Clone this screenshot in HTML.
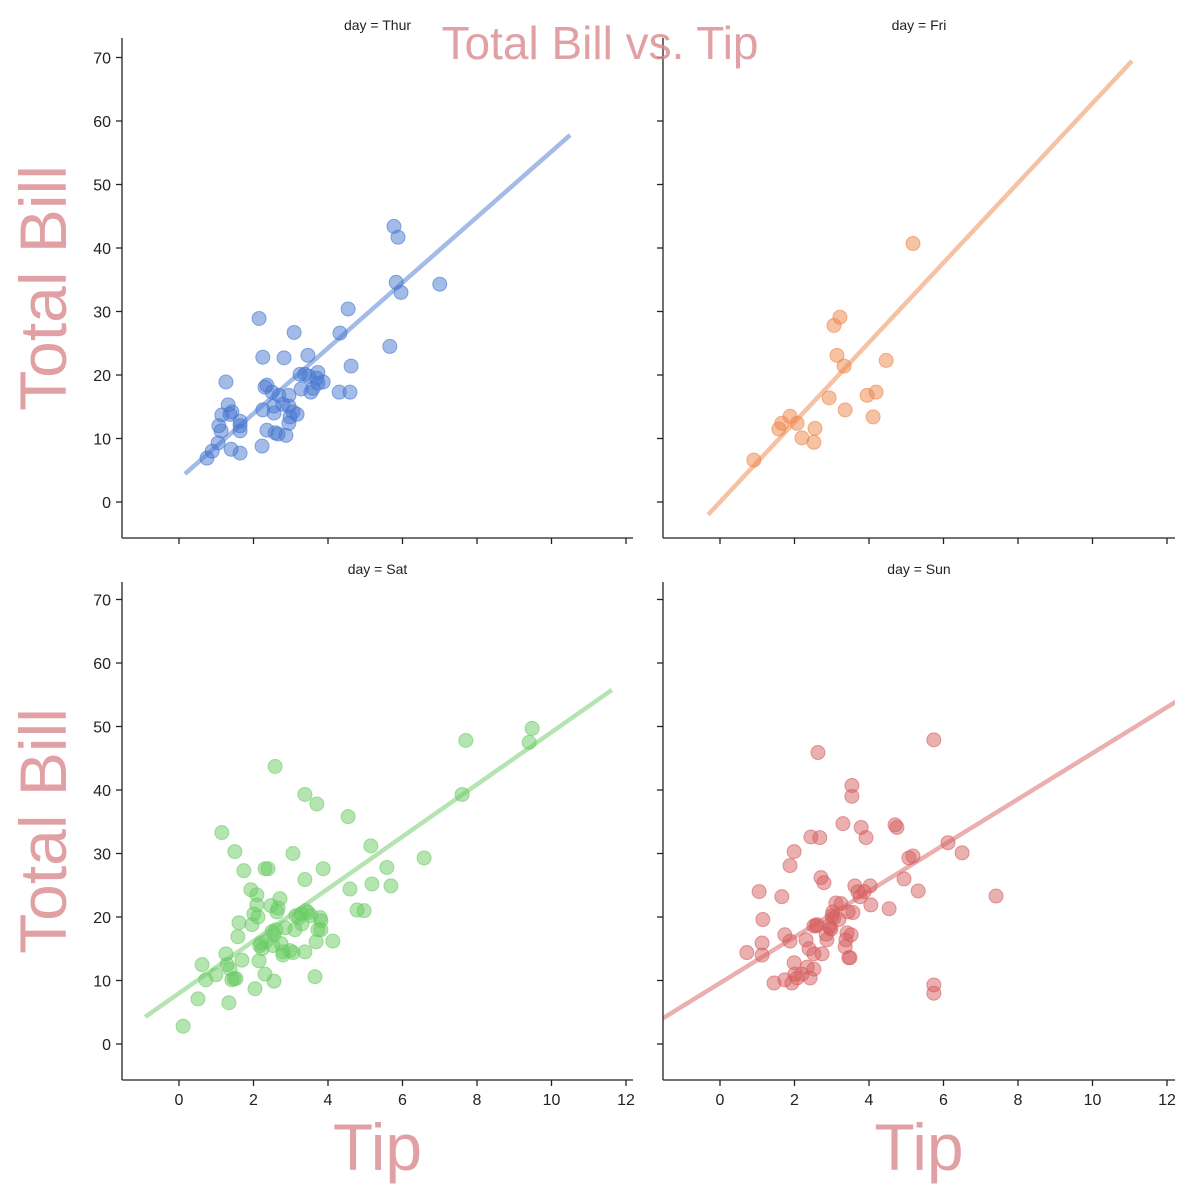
<!DOCTYPE html>
<html><head><meta charset="utf-8"><style>
body{margin:0;background:#fff}
svg{display:block;font-family:"Liberation Sans",Arial,sans-serif}
</style></head><body>
<svg id="chart" width="1200" height="1200" viewBox="0 0 1200 1200"></svg>
<script>
const days = ["Thur","Fri","Sat","Sun"];
const colors = ["#4878d0","#ee854a","#6acc64","#d65f5f"];
const xTicks = [0,2,4,6,8,10,12];
const yTicks = [0,10,20,30,40,50,60,70];
const thurTip = [0.75,0.89,1.05,1.15,1.07,1.13,1.26,1.32,1.37,1.42,1.40,1.64,1.64,1.64,1.64,2.15,2.23,2.25,2.25,2.31,2.36,2.36,2.50,2.55,2.55,2.58,2.66,2.68,2.79,2.82,2.87,2.95,2.95,2.95,2.98,3.09,3.06,3.17,3.25,3.28,3.38,3.46,3.49,3.54,3.60,3.70,3.73,3.73,3.87,4.32,4.30,4.54,4.62,4.59,5.66,5.77,5.83,5.88,5.96,7.0];
const thurBill = [6.9,8.0,9.3,13.7,12.0,11.2,18.9,15.3,13.8,14.2,8.3,11.2,12.7,7.7,12.0,28.9,8.8,22.8,14.5,18.1,18.4,11.3,17.3,14.0,15.1,10.9,10.7,16.8,15.4,22.7,10.5,15.1,12.4,16.8,13.4,26.7,14.2,13.8,20.1,17.8,20.1,23.1,19.8,17.3,17.9,19.5,20.4,18.7,18.9,26.6,17.3,30.4,21.4,17.3,24.5,43.4,34.6,41.7,33.0,34.3];
const friTip = [0.91,1.58,1.66,1.88,2.07,2.20,2.52,2.55,2.93,3.06,3.22,3.14,3.33,3.36,3.95,4.11,4.19,4.46,5.18];
const friBill = [6.6,11.5,12.4,13.5,12.4,10.1,9.4,11.6,16.4,27.8,29.1,23.1,21.4,14.5,16.8,13.4,17.3,22.3,40.7];
const satTip = [0.11,0.51,0.62,0.72,0.99,1.15,1.26,1.29,1.34,1.37,1.42,1.48,1.53,1.50,1.58,1.61,1.69,1.74,1.93,1.96,2.01,2.04,2.09,2.09,2.12,2.15,2.17,2.20,2.23,2.31,2.31,2.34,2.39,2.47,2.50,2.52,2.55,2.55,2.58,2.60,2.63,2.66,2.71,2.74,2.79,2.79,2.85,2.98,3.06,3.06,3.11,3.14,3.22,3.28,3.30,3.38,3.38,3.38,3.41,3.46,3.54,3.65,3.68,3.70,3.73,3.79,3.81,3.81,3.87,4.13,4.54,4.59,4.78,4.97,5.15,5.18,5.58,5.69,6.58,7.60,7.70,9.40,9.48];
const satBill = [2.8,7.1,12.5,10.1,10.9,33.3,14.2,12.5,6.5,11.8,10.1,10.3,10.3,30.3,16.9,19.1,13.2,27.3,24.3,18.8,20.5,8.7,21.9,23.5,20.0,13.1,15.5,15.9,15.0,11.0,27.6,16.2,27.6,21.8,17.7,15.5,17.2,9.9,43.7,18.0,20.8,21.4,22.9,15.8,14.0,14.5,18.3,14.7,30.0,14.4,18.0,20.2,19.9,20.5,18.9,25.9,14.5,39.3,21.0,20.7,20.2,10.6,16.1,37.8,18.0,19.9,18.0,19.4,27.6,16.2,35.8,24.4,21.1,21.0,31.2,25.2,27.8,24.9,29.3,39.3,47.8,47.5,49.7];
const sunTip = [0.72,1.05,1.13,1.15,1.13,1.45,1.66,1.74,1.74,1.88,1.88,1.93,1.99,1.99,2.01,2.07,2.20,2.31,2.34,2.39,2.42,2.44,2.52,2.52,2.52,2.58,2.60,2.63,2.68,2.71,2.74,2.79,2.85,2.87,2.93,2.95,2.98,3.01,3.03,3.06,3.11,3.19,3.25,3.30,3.36,3.38,3.41,3.44,3.46,3.49,3.52,3.54,3.54,3.57,3.62,3.70,3.76,3.79,3.87,3.92,4.03,4.05,4.54,4.70,4.75,4.94,5.07,5.18,5.32,5.74,5.74,5.74,6.12,6.50,7.41];
const sunBill = [14.4,24.0,15.9,19.6,14.0,9.6,23.2,10.1,17.2,28.1,16.2,9.6,30.3,12.8,11.0,10.4,11.0,16.4,12.1,15.0,10.4,32.6,18.6,14.2,11.8,18.6,18.8,45.9,32.5,26.2,14.2,25.4,17.3,16.4,18.6,18.3,18.1,20.2,20.8,19.9,22.2,19.6,22.1,34.7,15.3,16.4,17.5,20.8,13.6,13.6,17.2,40.7,39.0,20.7,24.9,24.0,23.2,34.1,24.0,32.5,24.9,21.9,21.3,34.5,34.1,26.0,29.3,29.6,24.1,47.9,9.3,8.0,31.7,30.1,23.3];
const lineSlope = [5.16,6.28,4.11,3.62];
const lineIntercept = [3.6,0.0,8.0,9.6];
const lineStart = [0.16,-0.32,-0.91,-1.6];
const lineEnd = [10.5,11.06,11.62,12.3];
const tipData=[thurTip,friTip,satTip,sunTip], billData=[thurBill,friBill,satBill,sunBill];

const NS="http://www.w3.org/2000/svg", svg=document.getElementById('chart');
function mk(tag,attrs,parent){const e=document.createElementNS(NS,tag);for(const k in attrs)e.setAttribute(k,attrs[k]);(parent||svg).appendChild(e);return e;}
const panels=[{x0:122,x1:633,y0:38,y1:538,zx:179,zy:502},{x0:663,x1:1175,y0:38,y1:538,zx:720,zy:502},{x0:122,x1:633,y0:582,y1:1080,zx:179,zy:1044},{x0:663,x1:1175,y0:582,y1:1080,zx:720,zy:1044}];
const kx=37.25, ky=6.35;
panels.forEach((p,i)=>{
  const g=mk('g',{});
  
  
  const X=v=>p.zx+v*kx, Y=v=>p.zy-v*ky;
  const clip=mk('clipPath',{id:'c'+i},g);mk('rect',{x:p.x0,y:p.y0,width:p.x1-p.x0,height:p.y1-p.y0},clip);
  const pg=mk('g',{'clip-path':'url(#c'+i+')'},g);
  tipData[i].forEach((t,j)=>{const c=mk('circle',{cx:X(t),cy:Y(billData[i][j]),r:7,fill:colors[i],'fill-opacity':0.5,stroke:colors[i],'stroke-opacity':0.6},pg);
    
    });
  const ln=mk('line',{x1:X(lineStart[i]),y1:Y(lineSlope[i]*lineStart[i]+lineIntercept[i]),x2:X(lineEnd[i]),y2:Y(lineSlope[i]*lineEnd[i]+lineIntercept[i]),stroke:colors[i],'stroke-opacity':0.5,'stroke-width':4.5},pg);
  
  
  mk('line',{x1:p.x0,y1:p.y0,x2:p.x0,y2:p.y1,stroke:'#222','stroke-width':1.3},g);
  mk('line',{x1:p.x0,y1:p.y1,x2:p.x1,y2:p.y1,stroke:'#222','stroke-width':1.3},g);
  xTicks.forEach(t=>{mk('line',{x1:X(t),y1:p.y1,x2:X(t),y2:p.y1+6,stroke:'#222','stroke-width':1.3},g);
    if(i>=2){const tx=mk('text',{x:X(t),y:p.y1+25,'text-anchor':'middle','font-size':16,fill:'#222'},g);tx.textContent=t;
      }});
  yTicks.forEach(t=>{mk('line',{x1:p.x0,y1:Y(t),x2:p.x0-6,y2:Y(t),stroke:'#222','stroke-width':1.3},g);
    if(i%2===0){const tx=mk('text',{x:p.x0-11,y:Y(t)+6,'text-anchor':'end','font-size':16,fill:'#222'},g);tx.textContent=t;
      }});
  const tt=mk('text',{x:(p.x0+p.x1)/2,y:p.y0-8,'text-anchor':'middle','font-size':14,fill:'#222'},g);tt.textContent='day = '+days[i];
  
  if(i%2===0){const yl=mk('text',{transform:`translate(66,${(p.y0+p.y1)/2}) rotate(-90)`,'text-anchor':'middle','font-size':66,fill:'#d98a8d','fill-opacity':0.8},g);yl.textContent='Total Bill';
    }
  if(i>=2){const xl=mk('text',{x:(p.x0+p.x1)/2,y:1170,'text-anchor':'middle','font-size':66,fill:'#d98a8d','fill-opacity':0.8},g);xl.textContent='Tip';
    }
});
const title=mk('text',{x:600,y:59,'text-anchor':'middle','font-size':46,fill:'#d98a8d','fill-opacity':0.8});
title.textContent='Total Bill vs. Tip';


</script>
</body></html>
